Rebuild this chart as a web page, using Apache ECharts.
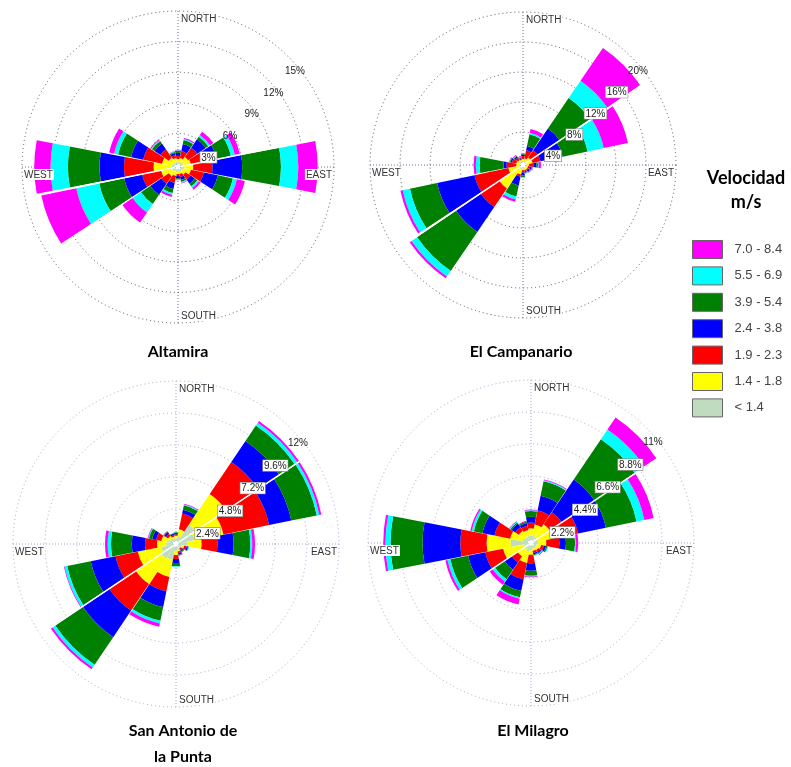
<!DOCTYPE html>
<html><head><meta charset="utf-8">
<script src="https://cdn.jsdelivr.net/npm/echarts@6/dist/echarts.min.js"></script>
<style>html,body{margin:0;padding:0;background:#fff}#c{width:791px;height:767px}</style>
</head><body><div id="c"></div><script>
// ---------------- data ----------------
const directions = ['N','NNE','NE','ENE','E','ESE','SE','SSE','S','SSW','SW','WSW','W','WNW','NW','NNW'];
const speedClasses = ['< 1.4','1.4 - 1.8','1.9 - 2.3','2.4 - 3.8','3.9 - 5.4','5.5 - 6.9','7.0 - 8.4'];
const classColors = ['#c0dcc0','#ffff00','#ff0000','#0000ff','#008000','#00ffff','#ff00ff'];
const stationNames = ['Altamira','El Campanario','San Antonio de\nla Punta','El Milagro'];
const ringMax = [15, 20, 12, 11];           // outer ring, % of time
const cardinalLabels = ['NORTH','EAST','SOUTH','WEST'];

// frequency (%) of each speed class by direction (N, NNE, ... NNW)
const altamiraC1 = [0.2,0.2,0.3,0.3,0.3,0.3,0.2,0.2,0.2,0.2,0.2,0.3,0.3,0.3,0.2,0.2];
const altamiraC2 = [0.3,0.4,0.6,0.7,0.9,0.7,0.4,0.2,0.2,0.4,0.6,1.1,1.8,1.0,0.6,0.4];
const altamiraC3 = [0.3,0.7,1.1,1.4,1.9,1.3,0.6,0.3,0.2,0.7,0.9,1.9,2.9,1.9,1.0,0.3];
const altamiraC4 = [0.3,0.7,1.0,1.2,2.9,1.4,0.5,0.3,0.2,0.6,1.3,1.8,2.4,1.2,0.7,0.2];
const altamiraC5 = [0.2,0.4,0.3,1.4,3.8,1.5,0.3,0.2,0.1,0.4,1.1,2.5,3.1,1.3,0.3,0.1];
const altamiraC6 = [0.05,0.1,0.2,0.4,1.7,0.4,0.2,0.1,0.05,0.2,1.0,2.3,1.7,0.4,0.1,0.05];
const altamiraC7 = [0.05,0.1,0.4,0.5,1.9,0.8,0.2,0.05,0.05,0.2,1.2,3.5,1.6,0.5,0.1,0.05];

const campanarioC1 = [0.1,0.2,0.2,0.2,0.1,0.1,0.1,0.1,0.1,0.2,0.2,0.2,0.1,0.1,0.1,0.1];
const campanarioC2 = [0.3,0.3,0.6,0.7,0.3,0.2,0.2,0.2,0.2,0.7,3.2,1.4,0.4,0.4,0.3,0.2];
const campanarioC3 = [0.4,1.1,1.2,1.1,0.6,0.3,0.2,0.2,0.3,0.3,3.0,4.6,1.3,0.6,0.4,0.2];
const campanarioC4 = [0.2,0.6,3.5,3.0,0.4,0.2,0.2,0.1,0.4,1.2,4.0,5.1,0.4,0.2,0.2,0.1];
const campanarioC5 = [0.1,1.6,4.9,3.4,0.2,0.1,0.1,0.1,0.2,1.5,6.3,3.7,3.2,0.1,0.1,0.1];
const campanarioC6 = [0.05,0.2,2.8,2.2,0.1,0.05,0.05,0.05,0.05,0.4,0.9,1.0,0.5,0.05,0.05,0.05];
const campanarioC7 = [0.05,0.5,5.3,3.3,0.3,0.05,0.05,0.05,0.05,0.3,0.3,0.3,0.3,0.05,0.1,0.1];

const sanAntonioC1 = [0.2,0.4,1.5,1.2,0.6,0.2,0.1,0.2,0.3,1.0,1.1,0.9,0.5,0.4,0.3,0.2];
const sanAntonioC2 = [0.2,0.5,2.8,2.2,1.1,0.2,0.1,0.15,0.3,1.3,2.3,1.8,0.7,0.5,0.2,0.15];
const sanAntonioC3 = [0.1,1.2,2.9,3.5,1.2,0.2,0.15,0.15,0.3,1.1,2.4,1.7,0.9,0.4,0.2,0.1];
const sanAntonioC4 = [0.1,0.3,1.9,1.7,1.2,0.1,0.1,0.1,0.3,1.2,2.4,1.9,1.0,0.3,0.15,0.1];
const sanAntonioC5 = [0.05,0.35,1.4,1.95,1.25,0.05,0.05,0.05,0.25,1.05,2.5,1.8,1.55,0.25,0.05,0.05];
const sanAntonioC6 = [0.05,0.05,0.25,0.2,0.15,0.05,0,0,0.05,0.2,0.25,0.2,0.25,0.05,0,0];
const sanAntonioC7 = [0,0.05,0.15,0.15,0.2,0,0.05,0.05,0,0.25,0.15,0.05,0.2,0.05,0.05,0];

const milagroC1 = [0.3,0.3,0.3,0.3,0.3,0.2,0.2,0.2,0.3,0.4,0.3,0.3,1.2,0.4,0.3,0.3];
const milagroC2 = [0.5,0.8,1.05,1.1,0.55,0.3,0.2,0.15,0.3,0.8,0.6,1.45,1.65,0.86,0.5,0.4];
const milagroC3 = [0.4,0.97,1.0,1.7,0.9,0.2,0.15,0.15,0.6,1.15,0.5,1.25,1.8,1.1,0.3,0.3];
const milagroC4 = [0.4,1.03,2.7,1.95,0.45,0.15,0.1,0.1,0.5,0.8,0.6,1.2,2.6,0.84,0.3,0.2];
const milagroC5 = [0.4,1.03,3.35,2.15,0.63,0.1,0.05,0.05,0.35,0.45,0.8,1.25,2.2,0.6,0.1,0.1];
const milagroC6 = [0.05,0.07,0.8,0.55,0.07,0.05,0.05,0.05,0.05,0.1,0.2,0.2,0.35,0.15,0.05,0];
const milagroC7 = [0.05,0.05,1.0,0.65,0.15,0,0.05,0,0.05,0.4,0.25,0.15,0.15,0.1,0.05,0.05];

const stationData = [
  [altamiraC1,altamiraC2,altamiraC3,altamiraC4,altamiraC5,altamiraC6,altamiraC7],
  [campanarioC1,campanarioC2,campanarioC3,campanarioC4,campanarioC5,campanarioC6,campanarioC7],
  [sanAntonioC1,sanAntonioC2,sanAntonioC3,sanAntonioC4,sanAntonioC5,sanAntonioC6,sanAntonioC7],
  [milagroC1,milagroC2,milagroC3,milagroC4,milagroC5,milagroC6,milagroC7]
];

// ---------------- layout / style ----------------
const layouts = [
  {cx:178, cy:167, R:156, gap:'5%', ring:'#555', cross:'#6a6a9c', white:11.25, boxed:1, titleX:178, titleY:339},
  {cx:523, cy:165, R:153, gap:'5%', ring:'#555', cross:'#6a6a9c', white:33.75, boxed:4, titleX:521, titleY:339},
  {cx:176, cy:544, R:163, gap:'2%', ring:'#a4a8cc', cross:'#9ea3c8', white:33.75, boxed:4, titleX:183, titleY:718},
  {cx:531, cy:543, R:163, gap:'2%', ring:'#a4a8cc', cross:'#9ea3c8', white:33.75, boxed:4, titleX:533, titleY:718}
];
const FONT = 'Liberation Sans, Arial, sans-serif';
const hidden = {axisLine:{show:false}, axisTick:{show:false}, axisLabel:{show:false}, splitLine:{show:false}};

const polar = [], angleAxis = [], radiusAxis = [], series = [], title = [], graphic = [];

function fmtPct(v){ return (Math.round(v*10)/10) + '%'; }

layouts.forEach((L, i) => {
  const max = ringMax[i], step = max/5;
  const base = 4*i;
  // 0 main (bars + rings), 1 cross lines, 2 white separator, 3 ring labels
  for (let k = 0; k < 4; k++) polar.push({center:[L.cx, L.cy], radius:[3, L.R]});

  angleAxis.push(Object.assign({polarIndex:base, type:'category', data:directions,
    startAngle:101.25, clockwise:true, boundaryGap:true}, hidden));
  radiusAxis.push({polarIndex:base, type:'value', min:0, max:max, interval:step,
    axisLine:{show:false}, axisTick:{show:false}, axisLabel:{show:false},
    splitLine:{show:true, lineStyle:{color:L.ring, width:1, type:[1,3]}}});

  angleAxis.push({polarIndex:base+1, type:'value', min:0, max:360, interval:90, startAngle:90,
    axisLine:{show:false}, axisTick:{show:false}, axisLabel:{show:false},
    splitLine:{show:true, lineStyle:{color:L.cross, width:1, type:[1,2]}}});
  radiusAxis.push(Object.assign({polarIndex:base+1, type:'value', min:0, max:1}, hidden));

  angleAxis.push({polarIndex:base+2, type:'value', min:0, max:360, interval:180, startAngle:L.white, z:5,
    axisLine:{show:false}, axisTick:{show:false}, axisLabel:{show:false},
    splitLine:{show:true, lineStyle:{color:'#ffffff', width:1.5, type:'solid'}}});
  radiusAxis.push(Object.assign({polarIndex:base+2, type:'value', min:0, max:1}, hidden));

  angleAxis.push(Object.assign({polarIndex:base+3, type:'value', min:0, max:360, startAngle:45}, hidden));
  radiusAxis.push({polarIndex:base+3, type:'value', min:0, max:max, interval:step, z:6,
    axisLine:{show:false}, axisTick:{show:false}, splitLine:{show:false},
    axisLabel:{show:true, margin:-13, align:'center', verticalAlign:'middle', padding:[10,5,0,0],
      formatter: v => {
        if (v <= 0) return '';
        const idx = Math.round(v/step);
        return (idx <= L.boxed ? '{b|' : '{p|') + fmtPct(v) + '}';
      },
      rich:{
        b:{fontSize:10, fontFamily:FONT, color:'#222', backgroundColor:'#fff', borderColor:'#888', borderWidth:0.6, padding:[1,1,0,1]},
        p:{fontSize:10, fontFamily:FONT, color:'#222', padding:[1,1,0,1]}
      }}});

  stationData[i].forEach((vals, k) => {
    series.push({type:'bar', coordinateSystem:'polar', polarIndex:base, stack:'st'+i,
      name:speedClasses[k], data:vals, barCategoryGap:L.gap, silent:true,
      itemStyle:{color:classColors[k]}});
  });

  title.push({text:stationNames[i], left:L.titleX, top:L.titleY, textAlign:'center', padding:0,
    textStyle:{fontFamily:'Lato, sans-serif', fontWeight:'bold', fontSize:16, color:'#000', lineHeight:26}});

  const lab = (txt, x, y, align, valign) => ({type:'text', x:x, y:y, z:20, silent:true,
    style:{text:txt, fill:'#333', font:'10px ' + FONT, align:align, verticalAlign:valign,
      textAlign:align, textVerticalAlign:valign, backgroundColor:'#fff', padding:[1,1,0,1]}});
  graphic.push(lab(cardinalLabels[0], L.cx+2, L.cy-L.R+2, 'left', 'top'));
  graphic.push(lab(cardinalLabels[1], L.cx+L.R-1, L.cy+2, 'right', 'top'));
  graphic.push(lab(cardinalLabels[2], L.cx+2, L.cy+L.R-2, 'left', 'bottom'));
  graphic.push(lab(cardinalLabels[3], L.cx-L.R+1, L.cy+2, 'left', 'top'));
});

title.push({text:'Velocidad\nm/s', left:746, top:166, textAlign:'center', padding:0,
  textStyle:{fontFamily:'Lato, sans-serif', fontWeight:'bold', fontSize:18, color:'#000', lineHeight:24}});

const chart = echarts.init(document.getElementById('c'), null, {renderer:'canvas'});
chart.setOption({
  backgroundColor:'#ffffff',
  animation:false,
  title: title,
  polar: polar,
  angleAxis: angleAxis,
  radiusAxis: radiusAxis,
  legend: {orient:'vertical', left:692, top:240, padding:0, itemWidth:30, itemHeight:18, itemGap:7.4,
    icon:'rect', selectedMode:false, data: speedClasses.slice().reverse(),
    itemStyle:{borderColor:'#666', borderWidth:1},
    textStyle:{fontSize:13, color:'#444', fontFamily:FONT, padding:[0,0,0,7]}},
  graphic: graphic,
  series: series
});
</script></body></html>
